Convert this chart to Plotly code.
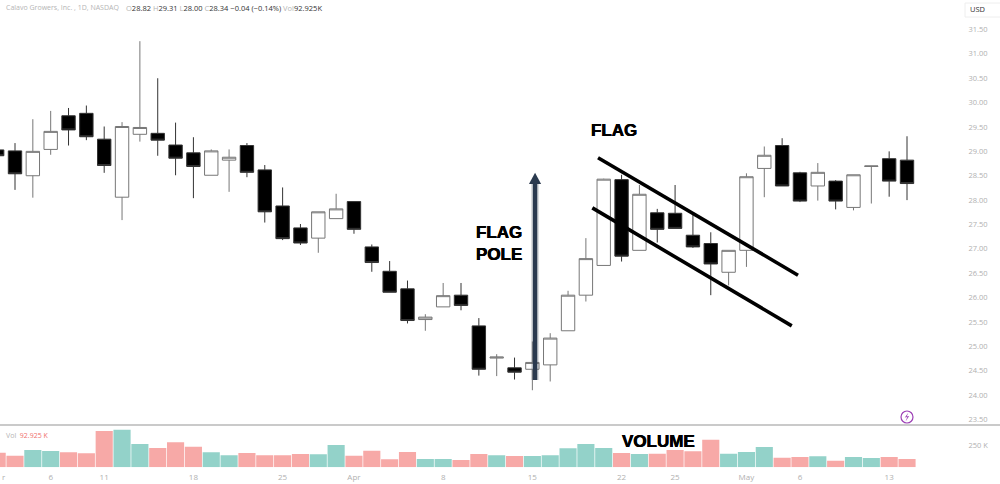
import plotly.graph_objects as go

# daily bars
opens = [29.03, 29.01, 28.50, 29.04, 29.73, 29.78, 29.25, 28.06, 29.35, 29.37, 29.13, 28.97, 28.51,
         28.82, 29.12, 28.62, 27.88, 27.43, 27.22, 27.62, 27.97, 27.04, 26.54, 26.18, 25.55, 25.81,
         26.05, 25.42, 24.76, 24.56, 24.53, 24.62, 25.32, 26.05, 26.66, 28.42, 26.97, 27.74, 27.73,
         27.28, 27.11, 26.52, 26.97, 28.65, 29.12, 28.56, 28.29, 28.39, 27.85, 28.69, 28.85, 28.82]
highs = [29.03, 29.17, 29.66, 29.83, 29.89, 29.94, 29.51, 29.60, 31.26, 30.50, 29.59, 29.29, 29.04,
         29.04, 29.17, 28.72, 28.26, 27.51, 27.76, 28.13, 27.97, 27.09, 26.75, 26.35, 25.66, 26.30,
         26.30, 25.58, 24.84, 24.77, 25.10, 25.27, 26.14, 27.22, 28.44, 28.52, 28.31, 27.82, 28.31,
         27.70, 27.34, 26.97, 28.55, 29.10, 29.27, 28.58, 28.76, 28.41, 28.52, 28.70, 29.00, 29.31]
lows = [28.91, 28.21, 28.05, 28.93, 29.12, 29.23, 28.56, 27.59, 29.20, 28.91, 28.51, 28.04, 28.51,
        28.17, 28.47, 27.54, 27.18, 27.08, 26.92, 27.62, 27.31, 26.53, 26.11, 25.47, 25.32, 25.81,
        25.74, 24.40, 24.39, 24.32, 24.10, 24.28, 25.32, 25.92, 26.66, 26.74, 26.97, 27.13, 27.42,
        27.02, 26.05, 26.25, 26.63, 28.06, 28.29, 27.96, 27.99, 27.81, 27.79, 27.93, 28.07, 28.00]
closes = [28.91, 28.54, 29.00, 29.41, 29.44, 29.30, 28.71, 29.51, 29.49, 29.23, 28.86, 28.69, 29.01,
          28.88, 28.57, 27.76, 27.21, 27.12, 27.76, 27.82, 27.40, 26.72, 26.11, 25.53, 25.60, 26.04,
          25.84, 24.53, 24.78, 24.47, 24.67, 25.17, 26.05, 26.80, 28.43, 26.85, 28.12, 27.40, 27.42,
          27.04, 26.69, 26.97, 28.48, 28.92, 28.29, 27.98, 28.57, 27.98, 28.52, 28.70, 28.39, 28.34]
volumes = [164, 130, 194, 183, 168, 157, 407, 421, 261, 216, 280, 231, 168, 135, 160, 135, 135, 149,
           146, 250, 130, 186, 90, 172, 93, 93, 82, 149, 135, 127, 127, 135, 213, 261, 216, 160, 149,
           152, 194, 179, 309, 152, 172, 228, 108, 115, 123, 74, 115, 104, 115, 93]
volume_up = [0, 0, 1, 1, 0, 0, 0, 1, 1, 0, 0, 0, 1, 1, 0, 0, 0, 0, 1, 1, 0, 0, 0, 0, 1, 1, 0, 0, 1,
             0, 1, 1, 1, 1, 1, 0, 1, 0, 0, 0, 0, 1, 1, 1, 0, 0, 1, 0, 1, 1, 0, 0]

tick_bars = [3, 6, 11, 16, 20, 25, 30, 35, 38, 42, 45, 50]
tick_labels = ["6", "11", "18", "25", "Apr", "8", "15", "22", "25", "May", "6", "13"]
price_ticks = [23.5 + 0.5 * i for i in range(17)]

bars = list(range(len(closes)))
GREY = "#b0b0b0"
RED = "#f7a9a7"
TEAL = "#93d2c9"
W, H = 1000, 484

fig = go.Figure()
fig.add_trace(go.Candlestick(
    x=bars, open=opens, high=highs, low=lows, close=closes,
    increasing=dict(line=dict(color="#777777", width=1), fillcolor="#ffffff"),
    decreasing=dict(line=dict(color="#333333", width=1), fillcolor="#000000"),
    whiskerwidth=0, showlegend=False,
))
fig.add_trace(go.Bar(
    x=bars, y=volumes, yaxis="y2", showlegend=False,
    marker=dict(color=[TEAL if u else RED for u in volume_up], line=dict(width=0)),
))


def px_x(p):
    return p / W


def px_y(p):
    return 1 - p / H


def note(px, py, text, size=17, color="#000000", bold=True, family="Liberation Sans", anchor="center"):
    font = dict(size=size, color=color, family=family)
    if bold:
        font["shadow"] = "0.3px 0 0 #000, -0.3px 0 0 #000"
    fig.add_annotation(
        xref="paper", yref="paper", x=px_x(px), y=px_y(py), text=f"<b>{text}</b>" if bold else text,
        showarrow=False, xanchor=anchor, yanchor="middle", font=font,
    )


bolt = [(908.5, 412.5), (904.8, 417.6), (907.3, 417.1), (905.5, 421.5), (909.2, 416), (906.7, 416.5)]
bolt_path = "M " + " L ".join(f"{px_x(a):.4f} {px_y(b):.4f}" for a, b in bolt) + " Z"

shapes = [
    # flag channel
    dict(type="line", x0=33.68, y0=28.87, x1=44.89, y1=26.46, line=dict(color="#000000", width=3.6)),
    dict(type="line", x0=33.36, y0=27.84, x1=44.54, y1=25.42, line=dict(color="#000000", width=3.6)),
    # flag pole
    dict(type="line", x0=30.15, y0=24.31, x1=30.15, y1=28.33, line=dict(color="rgba(90,100,115,0.22)", width=8)),
    dict(type="line", x0=30.15, y0=24.31, x1=30.15, y1=28.33, line=dict(color="#2b3a4f", width=4.5)),
    dict(type="path", path="M 29.81 28.33 L 30.15 28.56 L 30.49 28.33 Z", fillcolor="#2b3a4f", line=dict(width=0)),
    # pane divider
    dict(type="line", xref="paper", yref="paper", x0=0, x1=1, y0=px_y(425), y1=px_y(425),
         line=dict(color="#b9b9b9", width=1.5)),
    # currency box and bolt badge
    dict(type="rect", xref="paper", yref="paper", x0=px_x(965), x1=px_x(1003), y0=px_y(3), y1=px_y(17),
         line=dict(color="#eeeeee", width=1)),
    dict(type="circle", xref="paper", yref="paper", x0=px_x(901), x1=px_x(913), y0=px_y(411), y1=px_y(423),
         line=dict(color="#9c3fb5", width=1.2)),
    dict(type="path", xref="paper", yref="paper", path=bolt_path, fillcolor="#9c3fb5", line=dict(width=0)),
]
for s in shapes:
    s.setdefault("xref", "x")
    s.setdefault("yref", "y")

fig.update_layout(
    width=W, height=H, margin=dict(l=0, r=0, t=0, b=0),
    paper_bgcolor="#ffffff", plot_bgcolor="#ffffff",
    font=dict(family="Open Sans", size=7.5, color=GREY),
    boxgap=0.25, boxgroupgap=0, bargap=0.04, shapes=shapes,
    xaxis=dict(
        domain=[0, 0.96], range=[0.159, 53.97], anchor="y2", showgrid=False, zeroline=False,
        rangeslider=dict(visible=False), tickmode="array", tickvals=tick_bars, ticktext=tick_labels,
        ticks="outside", ticklen=2, tickcolor="#ffffff", showline=False, tickfont=dict(size=8),
    ),
    yaxis=dict(
        domain=[px_y(425), 1], range=[23.387, 32.105], side="right", showgrid=False, zeroline=False,
        tickmode="array", tickvals=price_ticks, ticktext=[f"{p:.2f}" for p in price_ticks],
        ticks="outside", ticklen=6, tickcolor="#ffffff",
    ),
    yaxis2=dict(
        domain=[px_y(467.3), px_y(426)], range=[0, 463], side="right", showgrid=False, zeroline=False,
        tickmode="array", tickvals=[250], ticktext=["250 K"], ticks="outside", ticklen=6, tickcolor="#ffffff",
    ),
)

note(614, 130.5, "FLAG")
note(499, 232.5, "FLAG")
note(499, 254.5, "POLE")
note(658, 441.5, "VOLUME")
note(4, 8, "Calavo Growers, Inc. , 1D, NASDAQ", size=7, color="#b5b5b5", bold=False, family="Open Sans", anchor="left")
note(124, 8, "<span style='color:#b5b5b5'>O</span>28.82 "
     "<span style='color:#b5b5b5'>H</span>29.31 <span style='color:#b5b5b5'>L</span>28.00 "
     "<span style='color:#b5b5b5'>C</span>28.34 −0.04 (−0.14%) <span style='color:#b5b5b5'>Vol</span>92.925K",
     size=7.5, color="#333333", bold=False, family="Open Sans", anchor="left")
note(4, 435, "<span style='color:#b5b5b5'>Vol</span> &nbsp;92.925 K", size=7, color="#ef6f6c", bold=False,
     family="Open Sans", anchor="left")
note(977, 9, "USD", size=7.5, color="#333333", bold=False, family="Open Sans")
note(0, 476, "r", size=8, color=GREY, bold=False, family="Open Sans", anchor="left")

# page body has an 8px margin by default, drop it so the chart fills the window
fig.write_html("out.html", config=dict(displayModeBar=False), post_script="document.body.style.margin = '0';")
